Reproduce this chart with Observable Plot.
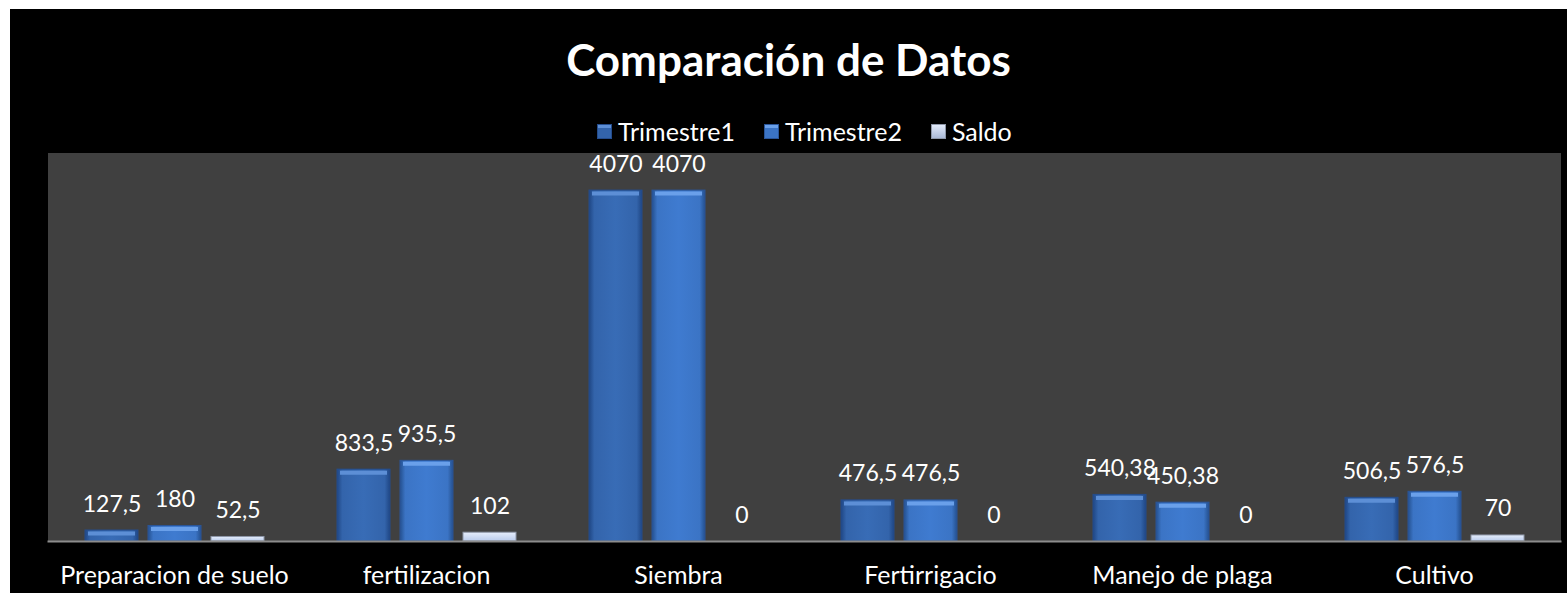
<!DOCTYPE html>
<html>
<head>
<meta charset="utf-8">
<script src="https://cdn.jsdelivr.net/npm/d3@7"></script>
<script src="https://cdn.jsdelivr.net/npm/@observablehq/plot@0.6"></script>
<style>
  html, body { margin: 0; padding: 0; background: #ffffff; }
  body { width: 1567px; height: 593px; position: relative; overflow: hidden; font-family: Lato, "Open Sans", sans-serif; }
  #frame { position: absolute; left: 10px; top: 9px; width: 1557px; height: 584px; background: #000; }
  #title { position: absolute; left: 0; width: 1557px; top: 28px; text-align: center; color: #fff; font-weight: 700; font-size: 44px; line-height: 1; }
  #legend { position: absolute; left: 587px; top: 110px; display: flex; align-items: center; color: #fff; font-size: 25px; line-height: 1; white-space: nowrap; z-index: 2; }
  .item { display: flex; align-items: center; margin-right: 29px; }
  .item:last-child { margin-right: 0; }
  .swatch { width: 15px; height: 15px; margin-right: 6px; box-sizing: border-box; }
  #chart { position: absolute; left: 0; top: 132px; z-index: 1; }
</style>
</head>
<body>
<svg width="0" height="0" style="position:absolute">
  <defs>
    <linearGradient id="gT1" x1="0" x2="1" y1="0" y2="0">
      <stop offset="0" stop-color="#1f4684"/>
      <stop offset="0.1" stop-color="#3364ab"/>
      <stop offset="0.5" stop-color="#386cb6"/>
      <stop offset="0.9" stop-color="#3364ab"/>
      <stop offset="1" stop-color="#1f4684"/>
    </linearGradient>
    <linearGradient id="gT2" x1="0" x2="1" y1="0" y2="0">
      <stop offset="0" stop-color="#24508f"/>
      <stop offset="0.1" stop-color="#3b74c5"/>
      <stop offset="0.5" stop-color="#3f7bd0"/>
      <stop offset="0.9" stop-color="#3b74c5"/>
      <stop offset="1" stop-color="#24508f"/>
    </linearGradient>
    <linearGradient id="gS" x1="0" x2="0" y1="0" y2="1">
      <stop offset="0" stop-color="#e6eefc"/>
      <stop offset="1" stop-color="#b9cbec"/>
    </linearGradient>
  </defs>
</svg>
<div id="frame">
  <div id="title">Comparación de Datos</div>
  <div id="legend"></div>
  <div id="chart"></div>
</div>
<script>
const categories = ["Preparacion de suelo", "fertilizacion", "Siembra", "Fertirrigacio", "Manejo de plaga", "Cultivo"];
const seriesNames = ["Trimestre1", "Trimestre2", "Saldo"];
const trimestre1 = [127.5, 833.5, 4070, 476.5, 540.38, 506.5];
const trimestre2 = [180, 935.5, 4070, 476.5, 450.38, 576.5];
const saldo = [52.5, 102, 0, 0, 0, 70];

const seriesFill = {Trimestre1: "url(#gT1)", Trimestre2: "url(#gT2)", Saldo: "url(#gS)"};
const seriesStroke = {Trimestre1: "#244c8c", Trimestre2: "#2a5598", Saldo: "#8e97a8"};
const seriesTop = {Trimestre1: "#5d8fd6", Trimestre2: "#6aa0ea"};

const table = [];
categories.forEach((c, i) => {
  table.push({category: c, series: "Trimestre1", value: trimestre1[i]});
  table.push({category: c, series: "Trimestre2", value: trimestre2[i]});
  table.push({category: c, series: "Saldo", value: saldo[i]});
});
const fmt = v => String(v).replace(".", ",");
const font = "Lato, 'Open Sans', sans-serif";

// legend
const legend = document.getElementById("legend");
seriesNames.forEach(s => {
  const it = document.createElement("div");
  it.className = "item";
  const sw = document.createElement("div");
  sw.className = "swatch";
  sw.style.background = s === "Saldo" ? "linear-gradient(#e2eafa,#aab9d6)" : (s === "Trimestre1" ? "linear-gradient(#5d8fd6 0 25%, #3364ab 25%)" : "linear-gradient(#6aa0ea 0 25%, #3b74c5 25%)");
  sw.style.border = "1px solid " + seriesStroke[s];
  const tx = document.createElement("span");
  tx.textContent = s;
  it.appendChild(sw); it.appendChild(tx);
  legend.appendChild(it);
});

const chart = Plot.plot({
  width: 1557,
  height: 452,
  marginLeft: 35,
  marginRight: 5,
  marginTop: 12,
  marginBottom: 52,
  style: {background: "transparent", color: "#fff", fontFamily: font, fontSize: "25px"},
  fx: {domain: categories, padding: 0, axis: "bottom", tickSize: 0, tickPadding: 25, label: null},
  x: {domain: seriesNames, axis: null, paddingInner: 0.16, paddingOuter: 0.58},
  y: {domain: [0, 4500], axis: null},
  color: {type: "identity"},
  marks: [
    Plot.frame({fill: "#404040", stroke: "#404040", facet: "super"}),
    Plot.barY(table, {fx: "category", x: "series", y: "value", fill: d => seriesFill[d.series], stroke: d => seriesStroke[d.series], strokeWidth: 1}),
    Plot.tickY(table.filter(d => d.series !== "Saldo"), {fx: "category", x: "series", y: "value", stroke: d => seriesTop[d.series], strokeWidth: 4, dy: 3, inset: 3}),
    Plot.frame({anchor: "bottom", stroke: "#8c8c8c", strokeWidth: 2, facet: "super"}),
    Plot.text(table, {fx: "category", x: "series", y: "value", text: d => fmt(d.value), dy: -19, lineAnchor: "bottom", fill: "#fff", fontSize: 23})
  ]
});
document.getElementById("chart").appendChild(chart);
</script>
</body>
</html>
